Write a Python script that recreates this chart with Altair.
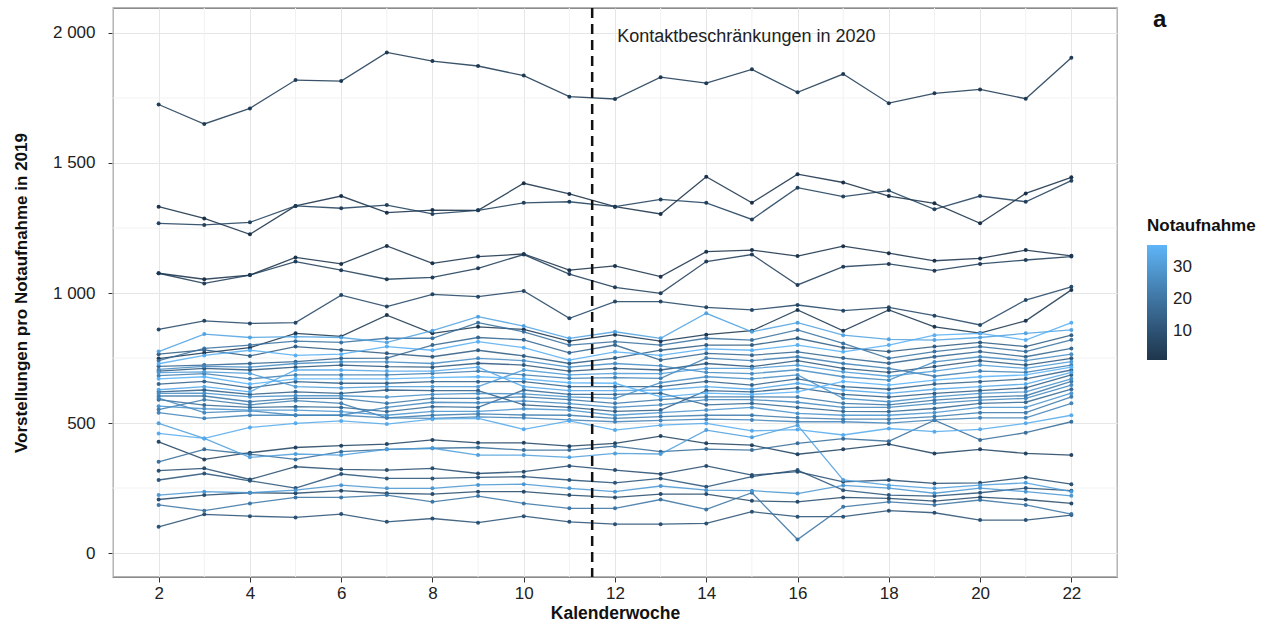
import altair as alt
import pandas as pd

weeks = list(range(2, 23))

# Notaufnahme id -> weekly presentations (KW 2..22, 2019)
ed_04 = [1725, 1650, 1710, 1819, 1815, 1925, 1892, 1873, 1836, 1755, 1746, 1830, 1807, 1860, 1772, 1842, 1730, 1768, 1783, 1747, 1905]
ed_01 = [1332, 1287, 1226, 1335, 1373, 1309, 1319, 1318, 1422, 1381, 1332, 1304, 1447, 1347, 1457, 1425, 1373, 1345, 1268, 1383, 1445]
ed_06 = [1268, 1262, 1272, 1335, 1326, 1338, 1304, 1318, 1347, 1351, 1332, 1360, 1347, 1283, 1405, 1371, 1394, 1322, 1373, 1351, 1432]
ed_02 = [1076, 1053, 1069, 1137, 1112, 1181, 1114, 1140, 1150, 1088, 1104, 1063, 1159, 1165, 1142, 1180, 1153, 1124, 1133, 1165, 1143]
ed_05 = [1076, 1037, 1069, 1121, 1088, 1053, 1060, 1095, 1148, 1073, 1022, 999, 1121, 1148, 1031, 1101, 1112, 1086, 1112, 1127, 1140]
ed_08 = [860, 893, 883, 886, 992, 948, 995, 986, 1008, 903, 967, 967, 945, 935, 954, 932, 945, 913, 877, 973, 1024]
ed_03 = [748, 770, 790, 845, 833, 915, 845, 870, 860, 815, 840, 815, 840, 855, 935, 855, 935, 870, 846, 893, 1012]

ed_33 = [775, 842, 829, 832, 829, 810, 855, 909, 873, 826, 851, 826, 922, 851, 886, 838, 822, 819, 829, 845, 858]
ed_20 = [740, 787, 800, 815, 810, 826, 826, 886, 851, 800, 813, 800, 826, 819, 858, 806, 749, 775, 794, 775, 820]
ed_14 = [765, 781, 758, 794, 781, 768, 755, 780, 758, 729, 750, 780, 800, 800, 826, 790, 775, 794, 810, 794, 838]
ed_36 = [728, 760, 780, 760, 765, 794, 780, 813, 790, 742, 774, 760, 785, 780, 800, 774, 800, 838, 845, 819, 886]
ed_17 = [718, 723, 729, 736, 749, 750, 800, 829, 820, 770, 800, 742, 768, 761, 774, 750, 730, 755, 775, 755, 787]
ed_27 = [706, 718, 715, 729, 735, 735, 729, 749, 740, 715, 729, 720, 695, 690, 705, 678, 665, 735, 755, 740, 765]
ed_13 = [700, 710, 704, 715, 723, 717, 715, 730, 723, 700, 710, 704, 729, 717, 740, 710, 695, 717, 740, 723, 749]
ed_31 = [694, 697, 691, 640, 635, 640, 640, 640, 704, 685, 691, 690, 710, 710, 723, 697, 680, 700, 723, 710, 736]
ed_24 = [682, 690, 670, 685, 685, 685, 691, 700, 685, 672, 675, 672, 750, 740, 755, 729, 710, 680, 700, 695, 723]
ed_37 = [670, 678, 650, 670, 670, 670, 675, 678, 670, 655, 653, 601, 615, 610, 620, 660, 646, 665, 678, 685, 715]
ed_16 = [650, 660, 635, 659, 653, 653, 659, 659, 659, 640, 640, 640, 660, 646, 670, 640, 630, 650, 659, 670, 704]
ed_34 = [628, 640, 620, 704, 704, 700, 700, 715, 640, 625, 625, 627, 640, 630, 653, 627, 614, 630, 640, 650, 695]
ed_15 = [620, 627, 610, 620, 614, 627, 625, 625, 570, 560, 545, 550, 625, 620, 635, 610, 600, 614, 625, 635, 685]
ed_28 = [614, 615, 601, 605, 605, 600, 610, 614, 612, 601, 595, 655, 678, 670, 685, 595, 582, 601, 614, 620, 670]
ed_22 = [604, 604, 582, 595, 595, 576, 595, 595, 601, 590, 576, 590, 601, 601, 600, 576, 570, 588, 600, 605, 660]
ed_26 = [596, 540, 547, 530, 530, 560, 580, 578, 585, 575, 560, 570, 590, 590, 580, 560, 560, 576, 588, 595, 646]
ed_18 = [590, 569, 560, 563, 560, 544, 563, 560, 627, 610, 610, 615, 570, 576, 560, 545, 544, 556, 576, 580, 630]
ed_29 = [565, 555, 550, 550, 544, 530, 545, 545, 555, 550, 530, 540, 550, 560, 537, 530, 530, 540, 560, 560, 615]
ed_23 = [552, 590, 570, 586, 576, 520, 530, 535, 531, 530, 518, 525, 530, 530, 520, 515, 515, 525, 540, 540, 601]
ed_25 = [540, 518, 530, 530, 530, 520, 518, 524, 520, 512, 505, 510, 515, 512, 505, 505, 500, 512, 520, 520, 576]

ed_35 = [460, 441, 483, 499, 508, 496, 515, 518, 476, 508, 473, 492, 499, 470, 475, 454, 479, 467, 476, 499, 530]
ed_32 = [499, 441, 368, 381, 377, 399, 403, 377, 377, 368, 383, 381, 473, 445, 492, 281, 261, 249, 261, 270, 236]
ed_07 = [428, 360, 386, 406, 413, 419, 435, 424, 424, 411, 422, 450, 422, 415, 380, 399, 419, 383, 399, 383, 377]
ed_19 = [351, 399, 380, 360, 390, 399, 403, 406, 396, 396, 411, 390, 400, 396, 422, 440, 430, 511, 435, 463, 505]
ed_10 = [317, 326, 283, 332, 322, 319, 326, 306, 313, 335, 319, 304, 335, 300, 313, 274, 281, 268, 270, 291, 265]
ed_12 = [281, 306, 278, 250, 304, 287, 287, 291, 294, 281, 270, 287, 255, 294, 319, 242, 223, 219, 232, 250, 240]
ed_30 = [223, 236, 232, 242, 261, 249, 249, 262, 265, 249, 236, 258, 242, 240, 229, 260, 250, 230, 250, 236, 220]
ed_09 = [206, 223, 232, 230, 240, 230, 227, 236, 236, 223, 214, 227, 227, 201, 197, 214, 210, 200, 215, 206, 191]
ed_21 = [185, 163, 191, 214, 214, 223, 197, 219, 191, 172, 172, 206, 168, 232, 52, 178, 197, 185, 204, 185, 150]
ed_11 = [101, 149, 142, 137, 150, 120, 133, 117, 142, 120, 111, 111, 114, 159, 140, 140, 163, 155, 127, 127, 146]

series = {
    1: ed_01, 2: ed_02, 3: ed_03, 4: ed_04, 5: ed_05, 6: ed_06, 7: ed_07, 8: ed_08,
    9: ed_09, 10: ed_10, 11: ed_11, 12: ed_12, 13: ed_13, 14: ed_14, 15: ed_15,
    16: ed_16, 17: ed_17, 18: ed_18, 19: ed_19, 20: ed_20, 21: ed_21, 22: ed_22,
    23: ed_23, 24: ed_24, 25: ed_25, 26: ed_26, 27: ed_27, 28: ed_28, 29: ed_29,
    30: ed_30, 31: ed_31, 32: ed_32, 33: ed_33, 34: ed_34, 35: ed_35, 36: ed_36,
    37: ed_37,
}

x_major = [2, 4, 6, 8, 10, 12, 14, 16, 18, 20, 22]
x_minor = [1, 3, 5, 7, 9, 11, 13, 15, 17, 19, 21, 23]
y_major = [0, 500, 1000, 1500, 2000]
y_minor = [250, 750, 1250, 1750]
lockdown_week = [11.5]
note = {"text": ["Kontaktbeschränkungen in 2020"], "week": [12.05], "val": [1985]}

rows = []
for nid, vals in series.items():
    for w, v in zip(weeks, vals):
        rows.append({"Notaufnahme": nid, "Kalenderwoche": w, "Vorstellungen": v})
df = pd.DataFrame(rows)

FONT = "Liberation Sans"
xs = alt.Scale(domain=[1, 23], nice=False, zero=False)
ys = alt.Scale(domain=[-92, 2096], nice=False, zero=False)
cs = alt.Scale(domain=[1, 37], range=["#132B43", "#56B1F7"], interpolate="lab")

xa = alt.Axis(values=x_major, grid=True, gridColor="#e6e6e6", tickColor="#333",
              tickSize=5, labelPadding=3, labelFontSize=17, labelColor="#222",
              titleFontSize=17.5, titleFontWeight="bold", titleColor="#111",
              titlePadding=3, domain=False, labelFont=FONT, titleFont=FONT)
ya = alt.Axis(values=y_major, grid=True, gridColor="#e6e6e6", tickColor="#333",
              tickSize=5, labelPadding=13, labelFontSize=17, labelColor="#222",
              labelExpr="replace(format(datum.value, ',d'), ',', ' ')",
              titleFontSize=17, titleFontWeight="bold", titleColor="#111",
              titlePadding=22, domain=False, labelFont=FONT, titleFont=FONT)
leg = alt.Legend(title="Notaufnahme", type="gradient", orient="none",
                 legendX=1034, legendY=210, direction="vertical",
                 values=[10, 20, 30], gradientLength=115, gradientThickness=20,
                 titleFontSize=17, titleFontWeight="bold", titleColor="#111",
                 labelFontSize=17, labelColor="#222", titlePadding=10, labelOffset=6,
                 labelFont=FONT, titleFont=FONT)

XT = "Kalenderwoche"
YT = "Vorstellungen pro Notaufnahme in 2019"

gx = alt.Chart(pd.DataFrame({"w": x_minor})).mark_rule(color="#f2f2f2", strokeWidth=1).encode(
    x=alt.X("w:Q", scale=xs, axis=xa, title=XT))
gy = alt.Chart(pd.DataFrame({"v": y_minor})).mark_rule(color="#f2f2f2", strokeWidth=1).encode(
    y=alt.Y("v:Q", scale=ys, axis=ya, title=YT))

base = alt.Chart(df)
lines = base.mark_line(strokeWidth=1.3, opacity=0.85).encode(
    x=alt.X("Kalenderwoche:Q", scale=xs, axis=xa, title=XT),
    y=alt.Y("Vorstellungen:Q", scale=ys, axis=ya, title=YT),
    color=alt.Color("Notaufnahme:Q", scale=cs, legend=None),
    detail="Notaufnahme:N",
)
points = base.mark_circle(size=16, opacity=0.95).encode(
    x=alt.X("Kalenderwoche:Q", scale=xs, axis=xa, title=XT),
    y=alt.Y("Vorstellungen:Q", scale=ys, axis=ya, title=YT),
    color=alt.Color("Notaufnahme:Q", scale=cs, legend=leg),
)
vline = alt.Chart(pd.DataFrame({"w": lockdown_week})).mark_rule(
    color="#111", strokeWidth=2.5, strokeDash=[10, 6]).encode(
    x=alt.X("w:Q", scale=xs, axis=xa, title=XT))
txt = alt.Chart(pd.DataFrame(note)).mark_text(
    align="left", baseline="middle", fontSize=18, color="#222", font=FONT).encode(
    x=alt.X("week:Q", scale=xs, axis=xa, title=XT),
    y=alt.Y("val:Q", scale=ys, axis=ya, title=YT),
    text="text:N")
panel_label = alt.Chart(pd.DataFrame({"t": ["a"]})).mark_text(
    align="left", baseline="middle", fontSize=24, fontWeight="bold", color="#111", font=FONT).encode(
    x=alt.value(1040), y=alt.value(12), text="t:N")

chart = alt.layer(gx, gy, lines, points, vline, txt, panel_label).resolve_legend(
    color="independent"
).properties(
    width=1004, height=569,
    autosize=alt.AutoSizeParams(type="none"),
    padding={"left": 113, "top": 8, "right": 154, "bottom": 51},
    background="white",
).configure_view(stroke="#666", strokeWidth=1.3)

chart.save("out.html", embed_options={"renderer": "svg", "actions": False})
